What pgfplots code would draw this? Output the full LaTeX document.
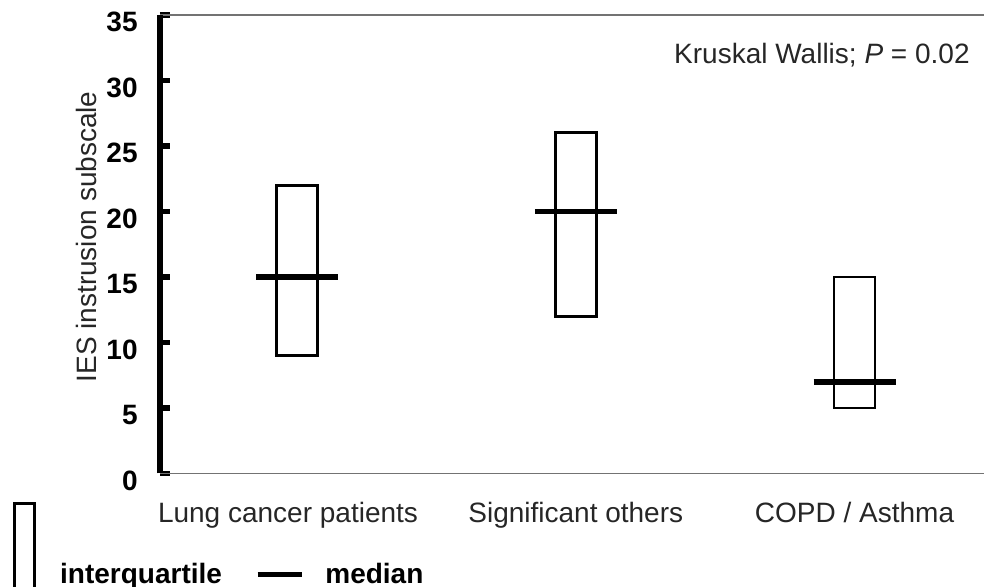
\documentclass[border=0pt]{standalone}
\usepackage{fontspec}
\setmainfont{Liberation Sans}
\usepackage{pgfplots}
\pgfplotsset{compat=1.18}
\begin{document}
\begin{tikzpicture}
\begin{axis}[
  width=412pt, height=229.25pt, scale only axis,
  xmin=0.5085, xmax=3.4645, ymin=0, ymax=35,
  axis x line=box, axis y line=left,
  x axis line style={draw=black!55, line width=0.8pt},
  y axis line style={-, draw=black, line width=2.7pt},
  xtick={1,2,3},
  xticklabels={{Lung cancer patients\kern9pt}, Significant others, COPD / Asthma},
  ytick={0,5,...,35},
  x tick style={draw=none},
  y tick style={draw=black, line width=2.7pt},
  tick align=inside,
  major tick length=5pt,
  /pgf/number format/assume math mode=true,
  yticklabel style={font=\fontsize{14}{16}\selectfont\bfseries, inner sep=0pt, xshift=-11pt, yshift=-3.5pt},
  xticklabel style={font=\fontsize{14}{16}\selectfont, text=black!85, inner sep=0pt, yshift=-14pt},
  ylabel={IES instrusion subscale},
  ylabel style={at={(axis description cs:-0.0898,0.516)}, anchor=center, font=\fontsize{14}{16}\selectfont, text=black!85},
  legend style={at={(axis description cs:-0.1784,-0.0622)}, anchor=north west, draw=none, fill=none,
    inner sep=0pt, font=\fontsize{14}{16}\selectfont\bfseries, column sep=0pt,
    /tikz/every even column/.append style={column sep=14.5pt}},
  legend columns=-1,
]
% interquartile boxes (Q1 to Q3)
\addplot[black, line width=1.4pt, line join=miter, line cap=rect, unbounded coords=jump,
  legend image code/.code={\draw[black, line width=1.4pt] (0pt,-38.5pt) rectangle (10pt,35.5pt); \path (20pt,0pt);}]
  coordinates {
  (0.9265,9) (1.0735,9) (1.0735,22) (0.9265,22) (0.9265,9)
  (nan,nan)
  (1.9265,12) (2.0735,12) (2.0735,26) (1.9265,26) (1.9265,12)
  (nan,nan)
  (2.9265,5) (3.0735,5) (3.0735,15) (2.9265,15) (2.9265,5)
  };
\addlegendentry{interquartile}
% medians
\addplot[black, line width=2.8pt, unbounded coords=jump,
  legend image code/.code={\draw[black, line width=2.6pt] (0pt,0pt) -- (22pt,0pt); \path (30.5pt,0pt);}]
  coordinates {
  (0.853,15) (1.147,15)
  (nan,nan)
  (1.853,20) (2.147,20)
  (nan,nan)
  (2.853,7) (3.147,7)
  };
\addlegendentry{median}
\node[anchor=east, inner sep=0pt, font=\fontsize{14}{16}\selectfont, text=black!85] at (axis description cs:0.983,0.913) {Kruskal Wallis; \textit{P} = 0.02};
\end{axis}
\pgfresetboundingbox
\path[use as bounding box] ([shift={(-80pt,-56.75pt)}]current axis.south west) rectangle ([shift={(412pt,236.75pt)}]current axis.south west);
\end{tikzpicture}
\end{document}
